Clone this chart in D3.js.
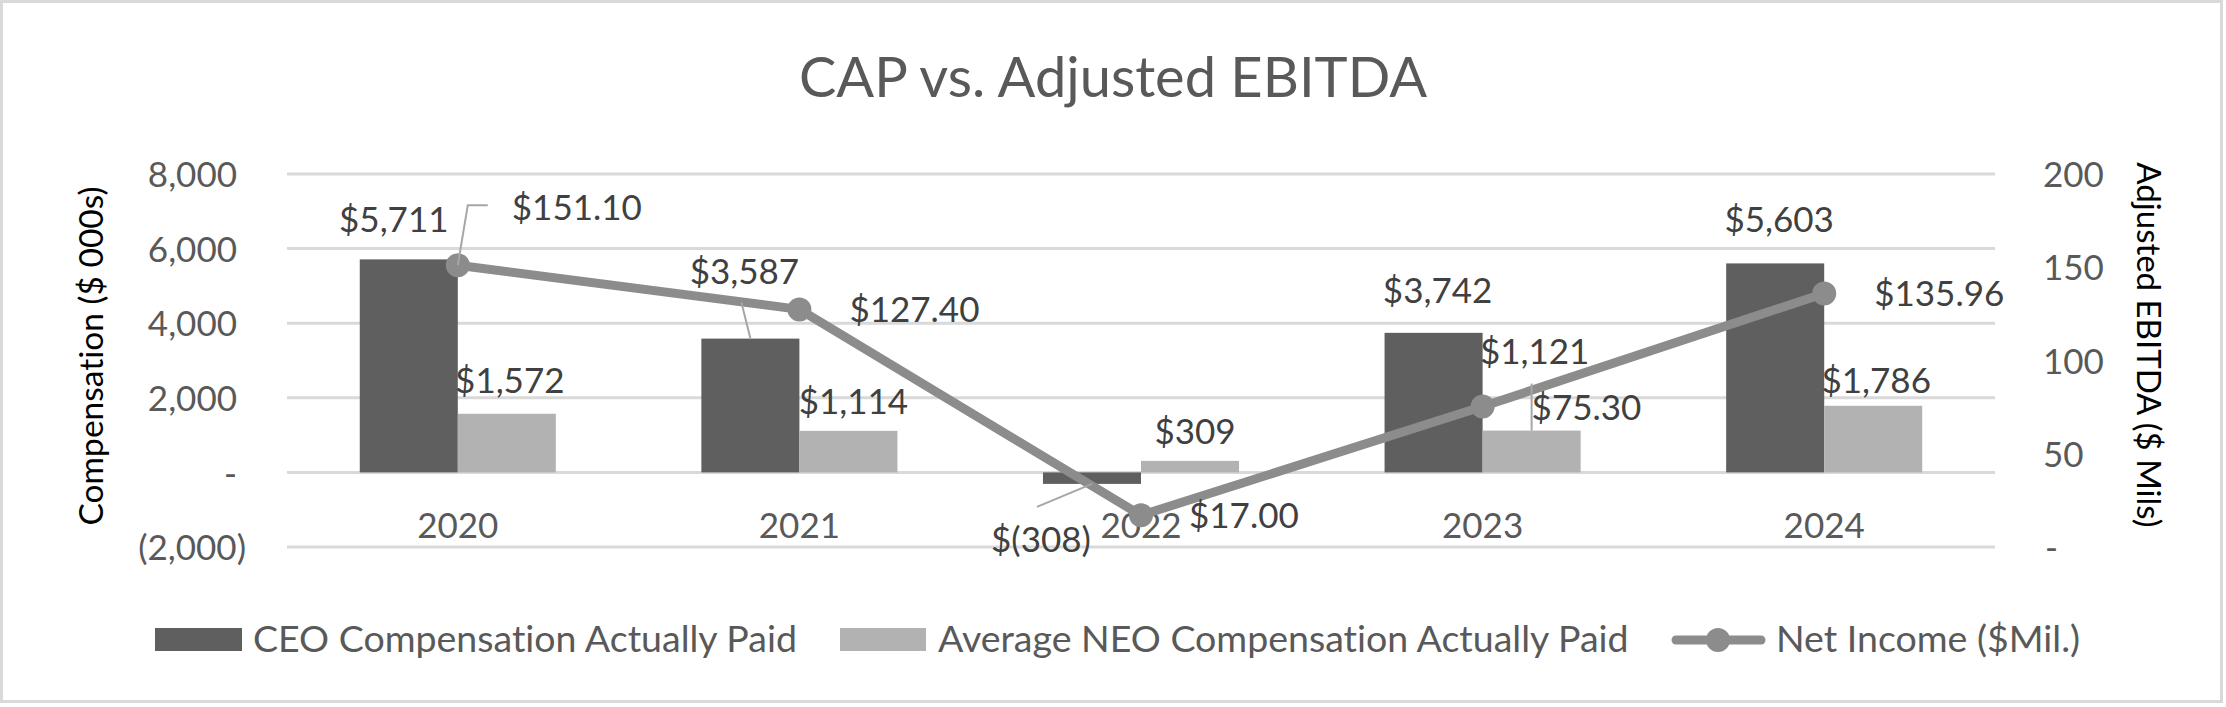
<!DOCTYPE html>
<html>
<head>
<meta charset="utf-8">
<script src="https://cdn.jsdelivr.net/npm/d3@7"></script>
<style>
  body { margin: 0; background: #fff; }
  text { font-family: Lato, "Noto Sans", sans-serif; font-variant-ligatures: none; }
</style>
</head>
<body>
<div class="chart"></div>
<script>
// data
const years = ["2020", "2021", "2022", "2023", "2024"];
const ceoCap = [5711, 3587, -308, 3742, 5603];
const neoCap = [1572, 1114, 309, 1121, 1786];
const ebitda = [151.10, 127.40, 17.00, 75.30, 135.96];
const leftTicks = [-2000, 0, 2000, 4000, 6000, 8000];
const rightTicks = [0, 50, 100, 150, 200];

// label nudges (px) from the mark anchor: [dx, dy]
const ceoLabelOff = [[-15, -27], [-6, -55], [-51, 68], [4, -30], [4, -31]];
const neoLabelOff = [[3, -21], [5, -17], [5, -17], [3, -67], [3, -13]];
const lineLabelOff = [[54, -45], [50, 13], [48, 13], [49, 13], [50, 13]];

const W = 2226, H = 707;
const plot = { left: 287, right: 1995, top: 174, bottom: 547 };

const svg = d3.select(".chart").append("svg")
    .attr("width", W)
    .attr("height", H);

svg.append("rect")
    .attr("x", 1.5).attr("y", 1.5)
    .attr("width", W - 6).attr("height", H - 7)
    .attr("fill", "#fff")
    .attr("stroke", "#d9d9d9")
    .attr("stroke-width", 3);

const x = d3.scaleBand()
    .domain(years)
    .range([plot.left, plot.right])
    .paddingInner(0.426)
    .paddingOuter(0.213);
const xSub = d3.scaleBand()
    .domain(["ceo", "neo"])
    .range([0, x.bandwidth()]);
const y = d3.scaleLinear().domain([-2000, 8000]).range([plot.bottom, plot.top]);
const y2 = d3.scaleLinear().domain([0, 200]).range([plot.bottom, plot.top]);
const cx = d => x(d) + x.bandwidth() / 2;

// gridlines
svg.append("g")
    .selectAll("line")
    .data(leftTicks)
    .enter()
    .append("line")
    .attr("x1", plot.left).attr("x2", plot.right)
    .attr("y1", d => y(d)).attr("y2", d => y(d))
    .attr("stroke", "#d9d9d9")
    .attr("stroke-width", 3);

// left axis
const fmtLeft = d => d === 0 ? "-" : d < 0 ? "(" + d3.format(",")(-d) + ")" : d3.format(",")(d);
const yAxis = svg.append("g")
    .attr("transform", "translate(237,0)")
    .call(d3.axisLeft(y).tickValues(leftTicks).tickFormat(fmtLeft).tickSize(0).tickPadding(0));
yAxis.select(".domain").remove();
yAxis.selectAll("text")
    .attr("fill", "#595959")
    .style("font-size", "35px")
    .attr("dy", "0.36em")
    .attr("dx", d => d < 0 ? 9 : 0);

// right axis
const fmtRight = d => d === 0 ? "-" : String(d);
const y2Axis = svg.append("g")
    .attr("transform", "translate(2043,0)")
    .call(d3.axisRight(y2).tickValues(rightTicks).tickFormat(fmtRight).tickSize(0).tickPadding(0));
y2Axis.select(".domain").remove();
y2Axis.selectAll("text")
    .attr("fill", "#595959")
    .style("font-size", "35px")
    .attr("dy", "0.36em")
    .attr("dx", d => d === 0 ? 2 : 0);

// category axis labels
svg.append("g")
    .selectAll("text")
    .data(years)
    .enter()
    .append("text")
    .attr("x", d => cx(d))
    .attr("y", 538)
    .attr("text-anchor", "middle")
    .attr("fill", "#595959")
    .style("font-size", "35px")
    .text(d => d);

// bars
const bars = svg.append("g");
bars.selectAll(".ceo")
    .data(ceoCap)
    .enter()
    .append("rect")
    .attr("x", (d, i) => x(years[i]) + xSub("ceo"))
    .attr("y", d => y(Math.max(0, d)))
    .attr("width", xSub.bandwidth())
    .attr("height", d => Math.abs(y(d) - y(0)))
    .attr("fill", "#5f5f5f");
bars.selectAll(".neo")
    .data(neoCap)
    .enter()
    .append("rect")
    .attr("x", (d, i) => x(years[i]) + xSub("neo"))
    .attr("y", d => y(Math.max(0, d)))
    .attr("width", xSub.bandwidth())
    .attr("height", d => Math.abs(y(d) - y(0)))
    .attr("fill", "#b2b2b2");

// leader lines (start at the mark, end near the moved label)
const ceoX = i => x(years[i]) + xSub("ceo") + xSub.bandwidth() / 2;
const neoX = i => x(years[i]) + xSub("neo") + xSub.bandwidth() / 2;
const leaders = [
    [[cx(years[0]), y2(ebitda[0])], [cx(years[0]) + 10, y2(ebitda[0]) - 60], [cx(years[0]) + 30, y2(ebitda[0]) - 60]],
    [[ceoX(1), y(ceoCap[1])], [ceoX(1) - 9, y(ceoCap[1]) - 36]],
    [[ceoX(2), y(ceoCap[2])], [ceoX(2) - 55, y(ceoCap[2]) + 23]],
    [[neoX(3), y(neoCap[3])], [neoX(3), y(neoCap[3]) - 47]]
];

// line series
const line = d3.line()
    .x((d, i) => cx(years[i]))
    .y(d => y2(d));
svg.append("path")
    .datum(ebitda)
    .attr("d", line)
    .attr("fill", "none")
    .attr("stroke", "#8c8c8c")
    .attr("stroke-width", 9)
    .attr("stroke-linejoin", "round");
svg.append("g")
    .selectAll("circle")
    .data(ebitda)
    .enter()
    .append("circle")
    .attr("cx", (d, i) => cx(years[i]))
    .attr("cy", d => y2(d))
    .attr("r", 12)
    .attr("fill", "#8c8c8c");

svg.append("g")
    .selectAll("path")
    .data(leaders)
    .enter()
    .append("path")
    .attr("d", d => d3.line()(d))
    .attr("fill", "none")
    .attr("stroke", "#a6a6a6")
    .attr("stroke-width", 2);

// data labels
const money = d => d < 0 ? "$(" + d3.format(",")(-d) + ")" : "$" + d3.format(",")(d);
const labels = svg.append("g")
    .attr("fill", "#404040")
    .style("font-size", "35px");
labels.selectAll(".lc")
    .data(ceoCap)
    .enter()
    .append("text")
    .attr("x", (d, i) => ceoX(i) + ceoLabelOff[i][0])
    .attr("y", (d, i) => y(d) + ceoLabelOff[i][1])
    .attr("text-anchor", "middle")
    .text(money);
labels.selectAll(".ln")
    .data(neoCap)
    .enter()
    .append("text")
    .attr("x", (d, i) => neoX(i) + neoLabelOff[i][0])
    .attr("y", (d, i) => y(d) + neoLabelOff[i][1])
    .attr("text-anchor", "middle")
    .text(money);
labels.selectAll(".le")
    .data(ebitda)
    .enter()
    .append("text")
    .attr("x", (d, i) => cx(years[i]) + lineLabelOff[i][0])
    .attr("y", (d, i) => y2(d) + lineLabelOff[i][1])
    .attr("text-anchor", "start")
    .text(d => "$" + d3.format(".2f")(d));

// title
svg.append("text")
    .attr("x", W / 2)
    .attr("y", 97)
    .attr("text-anchor", "middle")
    .attr("fill", "#595959")
    .style("font-size", "56px")
    .text("CAP vs. Adjusted EBITDA");

// axis titles
svg.append("text")
    .attr("transform", "translate(103,356) rotate(-90)")
    .attr("text-anchor", "middle")
    .attr("fill", "#000")
    .style("font-size", "33.5px")
    .text("Compensation ($ 000s)");
svg.append("text")
    .attr("transform", "translate(2137,345) rotate(90)")
    .attr("text-anchor", "middle")
    .attr("fill", "#000")
    .style("font-size", "33px")
    .text("Adjusted EBITDA ($ Mils)");

// legend
const legend = svg.append("g").style("font-size", "37.5px").attr("fill", "#595959");
legend.append("rect").attr("x", 155).attr("y", 628).attr("width", 87).attr("height", 23).attr("fill", "#5f5f5f");
legend.append("text").attr("x", 253).attr("y", 652).text("CEO Compensation Actually Paid");
legend.append("rect").attr("x", 840).attr("y", 628).attr("width", 86).attr("height", 23).attr("fill", "#b2b2b2");
legend.append("text").attr("x", 938).attr("y", 652).text("Average NEO Compensation Actually Paid");
legend.append("line").attr("x1", 1676).attr("x2", 1761).attr("y1", 640).attr("y2", 640)
    .attr("stroke", "#8c8c8c").attr("stroke-width", 9).attr("stroke-linecap", "round");
legend.append("circle").attr("cx", 1718).attr("cy", 640).attr("r", 12).attr("fill", "#8c8c8c");
legend.append("text").attr("x", 1776).attr("y", 652).text("Net Income ($Mil.)");
</script>
</body>
</html>
